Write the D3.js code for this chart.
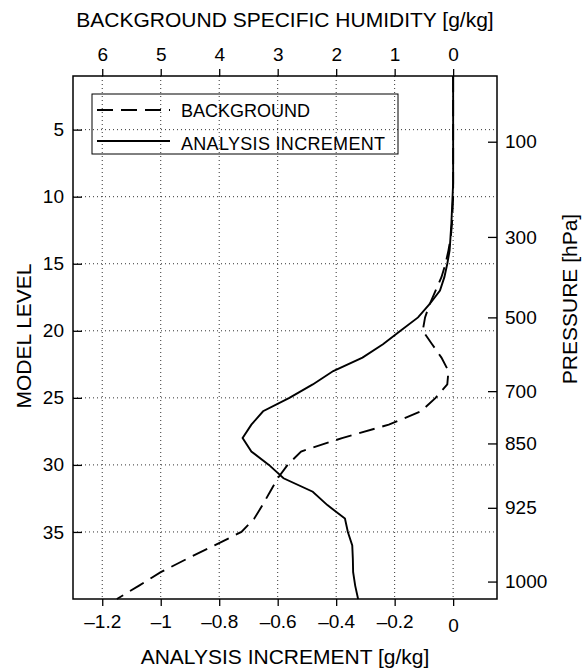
<!DOCTYPE html>
<html>
<head>
<meta charset="utf-8">
<script src="https://cdn.jsdelivr.net/npm/d3@7"></script>
<style>
  body { margin: 0; background: #fff; }
  svg { font-family: "Liberation Sans", Arial, sans-serif; }
  .grid line { stroke: #333; stroke-width: 1; stroke-dasharray: 1,3; }
</style>
</head>
<body>
<svg width="585" height="671"></svg>
<script>
// model levels 1..40
const levels = d3.range(1, 41);

// analysis increment [g/kg] per model level
const increment = [
  0, 0, 0, 0, 0, 0, 0, 0, 0, -0.002,
  -0.004, -0.006, -0.009, -0.012, -0.02, -0.03, -0.045, -0.08, -0.12, -0.18,
  -0.24, -0.31, -0.41, -0.48, -0.56, -0.65, -0.69, -0.72, -0.69, -0.63,
  -0.58, -0.48, -0.43, -0.37, -0.36, -0.345, -0.343, -0.342, -0.335, -0.325
];

// background specific humidity [g/kg] per model level
const background = [
  0, 0, 0, 0, 0, 0, 0, 0, 0, 0,
  0.01, 0.02, 0.04, 0.08, 0.13, 0.2, 0.3, 0.4, 0.48, 0.52,
  0.36, 0.2, 0.08, 0.1, 0.3, 0.55, 1.1, 1.9, 2.6, 2.83,
  3.0, 3.13, 3.26, 3.4, 3.62, 4.08, 4.55, 5.0, 5.37, 5.75
];

const bottomTicks = [-1.2, -1, -0.8, -0.6, -0.4, -0.2, 0];
const topTicks = [6, 5, 4, 3, 2, 1, 0];
const levelTicks = [5, 10, 15, 20, 25, 30, 35];
const pressureLabels = ["100", "300", "500", "700", "850", "925", "1000"];
const pressureLevels = [5.9, 13, 19, 24.5, 28.4, 33.2, 38.7];

var svg = d3.select("svg"),
  plotL = 73, plotR = 497, plotT = 76, plotB = 599,
  tickFont = 19, titleFont = 21,
  dash = "16,8";

var x = d3.scaleLinear().domain([-1.3, 0.15]).range([plotL, plotR]);
var xTop = d3.scaleLinear().domain([6.5, -0.75]).range([plotL, plotR]);
var y = d3.scaleLinear().domain([1, 40]).range([plotT, plotB]);

// ===========================================================================
// GRID
// ===========================================================================
var grid = svg.append("g").attr("class", "grid");
grid.selectAll(".vg")
  .data(bottomTicks)
  .enter()
  .append("line")
  .attr("x1", (d) => x(d)).attr("x2", (d) => x(d))
  .attr("y1", plotT).attr("y2", plotB);
grid.selectAll(".hg")
  .data(levelTicks)
  .enter()
  .append("line")
  .attr("x1", plotL).attr("x2", plotR)
  .attr("y1", (d) => y(d)).attr("y2", (d) => y(d));

// ===========================================================================
// AXES
// ===========================================================================
function styleAxis(g) {
  g.select(".domain").remove();
  g.selectAll(".tick line").attr("stroke", "#000").attr("stroke-width", 1.3);
  g.selectAll(".tick text").attr("font-size", tickFont).attr("fill", "#000");
}

var fmt = (d) => (d < 0 ? "\u2013" + Math.abs(d) : String(d));

var xAxis = svg.append("g")
  .attr("transform", "translate(0," + plotB + ")")
  .call(d3.axisBottom(x).tickValues(bottomTicks).tickFormat(fmt).tickSize(7).tickPadding(9))
  .call(styleAxis);
xAxis.selectAll(".tick text").filter((d) => d === 0).attr("dy", "0.9em");

svg.append("g")
  .attr("transform", "translate(0," + plotT + ")")
  .call(d3.axisTop(xTop).tickValues(topTicks).tickFormat(d3.format("d")).tickSize(7).tickPadding(8))
  .call(styleAxis);

var yLeft = svg.append("g")
  .attr("transform", "translate(" + plotL + ",0)")
  .call(d3.axisRight(y).tickValues(levelTicks).tickSize(9))
  .call(styleAxis);
yLeft.selectAll(".tick text").attr("text-anchor", "end").attr("x", -9);

var yRight = svg.append("g")
  .attr("transform", "translate(" + plotR + ",0)")
  .call(d3.axisLeft(y).tickValues(pressureLevels)
    .tickFormat((d, i) => pressureLabels[i]).tickSize(9))
  .call(styleAxis);
yRight.selectAll(".tick text").attr("text-anchor", "start").attr("x", 8);

// ===========================================================================
// CURVES
// ===========================================================================
var lineInc = d3.line()
  .x((d, i) => x(increment[i]))
  .y((d) => y(d));
var lineBg = d3.line()
  .x((d, i) => xTop(background[i]))
  .y((d) => y(d));

svg.append("path")
  .datum(levels)
  .attr("d", lineBg)
  .attr("fill", "none")
  .attr("stroke", "#000")
  .attr("stroke-width", 1.9)
  .attr("stroke-dasharray", dash);

svg.append("path")
  .datum(levels)
  .attr("d", lineInc)
  .attr("fill", "none")
  .attr("stroke", "#000")
  .attr("stroke-width", 1.9);

// frame
svg.append("rect")
  .attr("x", plotL).attr("y", plotT)
  .attr("width", plotR - plotL).attr("height", plotB - plotT)
  .attr("fill", "none")
  .attr("stroke", "#000")
  .attr("stroke-width", 1.5);

// ===========================================================================
// LEGEND
// ===========================================================================
var legend = svg.append("g");
legend.append("rect")
  .attr("x", 92).attr("y", 94)
  .attr("width", 306).attr("height", 60)
  .attr("fill", "none")
  .attr("stroke", "#000")
  .attr("stroke-width", 1);
var legendItems = [
  { name: "BACKGROUND", dash: dash },
  { name: "ANALYSIS INCREMENT", dash: null }
];
legendItems.forEach((item, i) => {
  legend.append("line")
    .attr("x1", 97).attr("x2", 170)
    .attr("y1", 110 + i * 31).attr("y2", 110 + i * 31)
    .attr("stroke", "#000")
    .attr("stroke-width", 1.9)
    .attr("stroke-dasharray", item.dash);
  legend.append("text")
    .attr("x", 181).attr("y", 111 + i * 33)
    .attr("dy", "0.35em")
    .attr("font-size", 18)
    .attr("textLength", i === 1 ? 204 : null)
    .text(item.name);
});

// ===========================================================================
// LABELS
// ===========================================================================
svg.append("text")
  .attr("x", 285).attr("y", 27)
  .attr("text-anchor", "middle")
  .attr("font-size", titleFont)
  .text("BACKGROUND SPECIFIC HUMIDITY [g/kg]");

svg.append("text")
  .attr("x", 285).attr("y", 664)
  .attr("text-anchor", "middle")
  .attr("font-size", titleFont)
  .text("ANALYSIS INCREMENT [g/kg]");

svg.append("text")
  .attr("transform", "rotate(-90)")
  .attr("x", -336).attr("y", 31)
  .attr("text-anchor", "middle")
  .attr("font-size", titleFont)
  .text("MODEL LEVEL");

svg.append("text")
  .attr("transform", "rotate(-90)")
  .attr("x", -299).attr("y", 577)
  .attr("text-anchor", "middle")
  .attr("font-size", titleFont)
  .text("PRESSURE [hPa]");
</script>
</body>
</html>
